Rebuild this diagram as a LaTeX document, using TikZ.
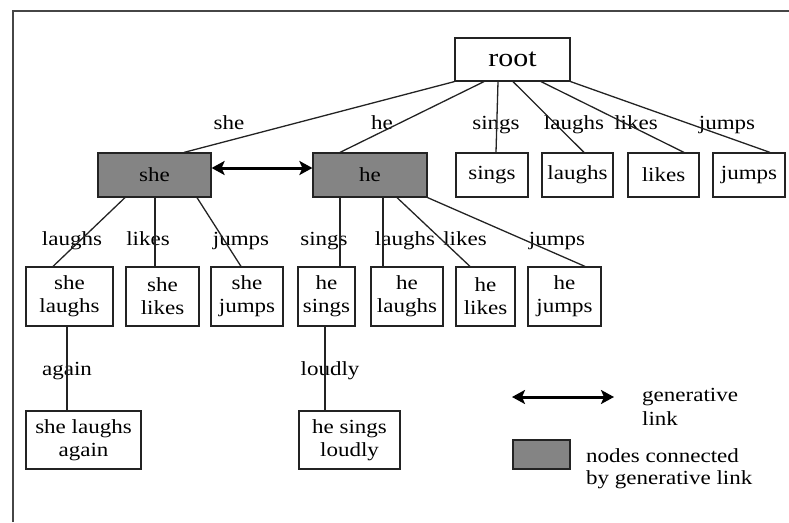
\documentclass[tikz,border=0pt]{standalone}
\usepackage{fontspec}
\setmainfont{Liberation Serif}[FakeStretch=1.15]
\usetikzlibrary{arrows.meta}
\definecolor{boxgray}{RGB}{132,132,132}
\definecolor{linecol}{RGB}{35,35,35}
\definecolor{framecol}{RGB}{70,70,70}
\begin{document}
\begin{tikzpicture}[x=1pt,y=-1pt,
  txt/.style={font=\fontsize{20}{23}\selectfont},
  box/.style={txt, draw=linecol, line width=1.2pt, fill=white, inner sep=0pt, align=center},
  box1/.style={box, minimum height=44pt},
  box2/.style={box, minimum height=59pt},
  gbox/.style={box1, fill=boxgray},
  lbl/.style={txt, anchor=base, inner sep=0pt},
  lgd/.style={txt, anchor=base west, inner sep=0pt},
  edge/.style={draw=linecol, line width=1.3pt},
  garrow/.style={draw=black, line width=3pt, {Stealth[length=13pt,width=14pt,inset=3pt]}-{Stealth[length=13pt,width=14pt,inset=3pt]}}
]
\useasboundingbox (0,0) rectangle (789,522);
\draw[framecol, line width=2pt] (13,522) -- (13,11) -- (789,11);

% nodes
\node[box, minimum width=115pt, minimum height=43pt, font=\fontsize{26}{30}\selectfont] (root) at (512.5,59.5) {root};
\node[gbox, minimum width=113pt] (she) at (154.5,175) {she};
\node[gbox, minimum width=114pt] (he) at (370,175) {he};
\node[box1, minimum width=72pt] (sings) at (492,175) {sings};
\node[box1, minimum width=71pt] (laughs) at (577.5,175) {laughs};
\node[box1, minimum width=71pt] (likes) at (663.5,175) {likes};
\node[box1, minimum width=72pt] (jumps) at (749,175) {jumps};

\node[box2, minimum width=87pt] (shelaughs) at (69.5,296.5) {she\\laughs};
\node[box2, minimum width=73pt] (shelikes) at (162.5,296.5) {she\\likes};
\node[box2, minimum width=72pt] (shejumps) at (247,296.5) {she\\jumps};
\node[box2, minimum width=57pt] (hesings) at (326.5,296.5) {he\\sings};
\node[box2, minimum width=72pt] (helaughs) at (407,296.5) {he\\laughs};
\node[box2, minimum width=59pt] (helikes) at (485.5,296.5) {he\\likes};
\node[box2, minimum width=73pt] (hejumps) at (564.5,296.5) {he\\jumps};

\node[box, minimum width=115pt, minimum height=58pt] (shelaughsagain) at (83.5,440) {she laughs\\again};
\node[box, minimum width=101pt, minimum height=58pt] (hesingsloudly) at (349.5,440) {he sings\\loudly};

% edge labels
\node[lbl] (l1) at (229,129) {she};
\node[lbl] (l2) at (382,129) {he};
\node[lbl] (l3) at (496,129) {sings};
\node[lbl] (l4) at (574,129) {laughs};
\node[lbl] (l5) at (636,129) {likes};
\node[lbl] (l6) at (727,129) {jumps};
\node[lbl] (l7) at (72,245) {laughs};
\node[lbl] (l8) at (148,245) {likes};
\node[lbl] (l9) at (241,245) {jumps};
\node[lbl] (l10) at (324,245) {sings};
\node[lbl] (l11) at (405,245) {laughs};
\node[lbl] (l12) at (465,245) {likes};
\node[lbl] (l13) at (557,245) {jumps};
\node[lbl] (l14) at (67,375) {again};
\node[lbl] (l15) at (330,375) {loudly};

% edges from root
\draw[edge] (root.south west) -- ([xshift=29.5pt]she.north);
\draw[edge] ([xshift=-28.5pt]root.south) -- ([xshift=-30pt]he.north);
\draw[edge] ([xshift=-14.5pt]root.south) -- ([xshift=4pt]sings.north);
\draw[edge] ([xshift=0.5pt]root.south) -- ([xshift=6.5pt]laughs.north);
\draw[edge] ([xshift=28.5pt]root.south) -- ([xshift=20.5pt]likes.north);
\draw[edge] (root.south east) -- ([xshift=21pt]jumps.north);

% edges from she
\draw[edge] ([xshift=-29.5pt]she.south) -- ([xshift=-16.5pt]shelaughs.north);
\draw[edge] ([xshift=0.5pt]she.south) -- ([xshift=-7.5pt]shelikes.north);
\draw[edge] ([xshift=42.5pt]she.south) -- ([xshift=-6pt]shejumps.north);

% edges from he
\draw[edge] ([xshift=-30pt]he.south) -- ([xshift=13.5pt]hesings.north);
\draw[edge] ([xshift=13pt]he.south) -- ([xshift=-24pt]helaughs.north);
\draw[edge] ([xshift=27pt]he.south) -- ([xshift=-15.5pt]helikes.north);
\draw[edge] (he.south east) -- ([xshift=20.5pt]hejumps.north);

% third level
\draw[edge] ([xshift=-2.5pt]shelaughs.south) -- ([xshift=-16.5pt]shelaughsagain.north);
\draw[edge] ([xshift=-1.5pt]hesings.south) -- ([xshift=-24.5pt]hesingsloudly.north);

% generative link
\draw[garrow] ([yshift=7pt]she.east) -- ([yshift=7pt]he.west);

% legend
\coordinate (la) at (512,397);
\coordinate (lb) at (614,397);
\draw[garrow] (la) -- (lb);
\node[lgd] (g1) at (642,401) {generative};
\node[lgd] (g2) at (642,425) {link};
\node[draw=linecol, line width=1.2pt, fill=boxgray, minimum width=57pt, minimum height=29pt, inner sep=0pt] (lbox) at (541.5,454.5) {};
\node[lgd] (n1) at (586,462) {nodes connected};
\node[lgd] (n2) at (586,484) {by generative link};
\end{tikzpicture}
\end{document}
